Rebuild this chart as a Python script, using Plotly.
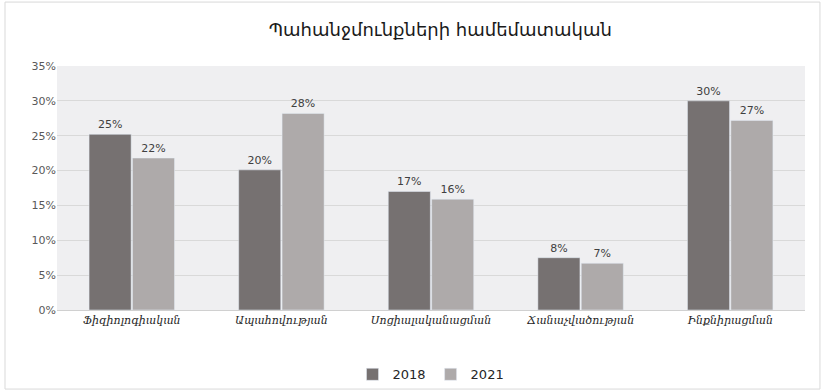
import plotly.graph_objects as go

categories = ["Ֆիզիոլոգիական", "Ապահովության", "Սոցիալականացման", "Ճանաչվածության", "Ինքնիրացման"]
values_2018 = [25, 20, 17, 8, 30]
values_2021 = [22, 28, 16, 7, 27]
bar_2018 = [25.2, 20.1, 17.0, 7.5, 30.0]
bar_2021 = [21.8, 28.2, 15.9, 6.7, 27.2]
series_names = ["2018", "2021"]
tick_vals = [0, 5, 10, 15, 20, 25, 30, 35]
tick_text = [f"{v}%" for v in tick_vals]

label_font = dict(family="DejaVu Sans", size=11, color="#404040")

fig = go.Figure()
fig.add_trace(go.Bar(
    x=categories, y=bar_2018, name=series_names[0],
    marker=dict(color="#767171"),
    text=[f"{v}%" for v in values_2018], textposition="outside",
    textfont=label_font, cliponaxis=False,
))
fig.add_trace(go.Bar(
    x=categories, y=bar_2021, name=series_names[1],
    marker=dict(color="#aeaaaa"),
    text=[f"{v}%" for v in values_2021], textposition="outside",
    textfont=label_font, cliponaxis=False,
))

fig.update_layout(
    width=823, height=392,
    margin=dict(l=57, r=18, t=66, b=82, autoexpand=False),
    paper_bgcolor="white",
    plot_bgcolor="#efeff1",
    barmode="group",
    bargap=0.42,
    bargroupgap=0.03,
    title=dict(text="Պահանջմունքների համեմատական", x=0.535, xanchor="center",
               y=0.925, yanchor="middle",
               font=dict(family="DejaVu Sans", size=18, color="#1a1a1a")),
    font=dict(family="DejaVu Sans", color="#595959"),
    legend=dict(orientation="h", x=0.5, xanchor="center",
                yref="container", y=0.045, yanchor="middle",
                font=dict(family="DejaVu Sans", size=13, color="#262626"),
                bgcolor="rgba(0,0,0,0)",
                itemwidth=30, traceorder="normal"),
    showlegend=True,
    xaxis=dict(tickfont=dict(family="DejaVu Serif", size=11, color="#262626", style="italic"),
               showline=True, linecolor="#d0d0d0", ticks=""),
    yaxis=dict(range=[0, 35], tickvals=tick_vals, ticktext=tick_text,
               tickfont=dict(family="DejaVu Sans", size=11, color="#595959"),
               gridcolor="#d9d9d9", zeroline=False, ticks="", ticklen=0),
    shapes=[dict(type="rect", xref="paper", yref="paper",
                 x0=-0.0695, x1=1.020, y0=-0.324, y1=1.262,
                 line=dict(color="#d9d9d9", width=1), fillcolor="rgba(0,0,0,0)", layer="below")],
)

fig.write_html("out.html")
